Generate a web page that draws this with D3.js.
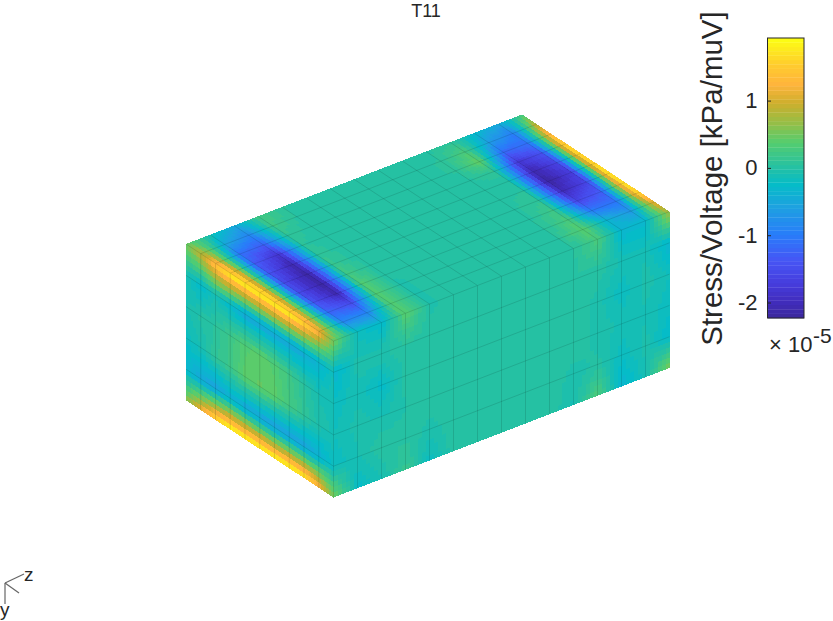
<!DOCTYPE html>
<html><head><meta charset="utf-8">
<style>html,body{margin:0;padding:0;background:#fff}svg{display:block}text{font-family:"Liberation Sans",Arial,sans-serif;fill:#262626}</style>
<script src="https://d3js.org/d3.v7.min.js"></script></head><body>
<svg id="c" width="833" height="621"></svg>
<script>
const titleText="T11";
const colorbarLabel="Stress/Voltage [kPa/muV]";
const colorbarTicks=[1,0,-1,-2];
const colorDomain=[-2.23,1.93];
const colorStops=[-2.23,-2,-1.75,-1.4,-1,-.6,-.25,0,.39,.68,.98,1.26,1.57,1.93];
const colorValues=["#3c28a0","#412dbe","#463cdc","#4655f5","#287dfa","#1ea0e1","#05bcc8","#23c0a5","#55cd6e","#96be46","#cdaf2d","#ffb43c","#ffcd2d","#fcfc14"];
const colorLevels=64;
// rows: depth w=0..5, cols: v=0..10 (back-left to front edge)
const leftFace=[
[.5,.9,1.5,1.85,1.93,1.93,1.93,1.9,1.7,1.3,.5],
[-.1,-.3,-.1,-.3,-.5,-.5,-.5,-.5,-.45,-.35,-.15],
[-.1,0,.05,.2,.35,.4,.35,.2,.05,-.1,-.1],
[-.2,-.1,.1,.2,.4,.45,.4,.25,.1,-.05,-.1],
[-.3,-.5,-.55,-.4,-.5,-.55,-.6,-.55,-.55,-.4,-.2],
[.6,1.2,1.7,1.93,1.93,1.93,1.93,1.93,1.85,1.3,.5]];
// rows: w=0..5, cols: u=0..14 (front edge to right)
const rightFace=[
[.5,-.2,-.3,.4,-.05,.03,.03,.03,.03,.03,.03,.3,-.35,-.3,.8],
[-.35,-.05,-.03,.03,.02,.03,.03,.03,.03,.03,.03,.02,-.1,-.1,-.35],
[-.2,-.1,-.25,.02,.03,.03,.03,.03,.03,.03,.03,-.05,-.2,-.05,-.15],
[-.15,-.05,-.1,-.02,.03,.03,.03,.03,.03,.03,.03,-.05,-.1,-.1,-.2],
[-.2,-.1,.05,.03,-.05,.03,.03,.03,.03,.03,-.05,0,-.2,-.05,-.3],
[.5,-.25,-.1,.15,-.2,.03,.03,.03,.03,.03,-.1,.3,-.35,-.1,.6]];
// rows: u=0..14, cols: v=0..10
const topFace=[
[.5,.9,1.4,1.7,1.8,1.85,1.8,1.7,1.5,1.2,.5],
[-.1,-.5,-1.1,-1.3,-1.4,-1.5,-1.5,-1.4,-1.2,-.85,-.2],
[-.5,-.9,-1.3,-1.85,-2.1,-2.2,-2.2,-2.1,-1.5,-.9,-.3],
[.25,.2,.1,.05,.1,.15,.25,.35,.4,.4,.4],
[.05,.03,0,0,0,0,0,0,-.05,-.05,-.05],
[.03,.03,.03,.03,.03,.03,.03,.03,.03,.03,.03],
[.03,.03,.03,.03,.03,.03,.03,.03,.03,.03,.03],
[.03,.03,.03,.03,.03,.03,.03,.03,.03,.03,.03],
[.03,.03,.03,.03,.03,.03,.03,.03,.03,.03,.03],
[.03,.03,.03,.03,.03,.03,.03,.03,.03,.03,.03],
[.03,.05,.05,.03,.03,.03,.03,.03,.03,.03,.03],
[.1,.3,.45,.1,0,.05,.1,.2,.3,.4,.3],
[-.3,-.6,-1.2,-1.8,-2.1,-2.2,-2,-1.6,-1,-.35,-.35],
[-.5,-1,-1.1,-1.4,-1.6,-1.7,-1.6,-1.3,-1.1,-.7,-.3],
[.3,1,1.5,1.8,1.85,1.9,1.93,1.93,1.8,1.2,.8]];

const svg=d3.select("#c");
const ramp=d3.scaleLinear().domain(colorStops).range(colorValues);
const levelScale=d3.scaleLinear().domain([0,colorLevels-1]).range(colorDomain);
const hex=d3.range(colorLevels).map(i=>d3.color(ramp(levelScale(i))).formatHex());
const color=d3.scaleQuantize().domain(colorDomain).range(hex);
const A=[186,244],uV=[336/14,-129.5/14],vV=[147.5/10,97/10],wV=[0,156.5/5];
const P=(o,a,b,da,db)=>[o[0]+a*da[0]+b*db[0],o[1]+a*da[1]+b*db[1]];
const B=[A[0]+10*vV[0],A[1]+10*vV[1]];
function face(name,values,origin,rowV,colV){
 const g=svg.append("g").attr("class",name),N=6,quads=[];
 const nr=values.length-1,nc=values[0].length-1;
 for(let r=0;r<nr;r++)for(let c=0;c<nc;c++)for(let i=0;i<N;i++)for(let j=0;j<N;j++){
  const a=(i+.5)/N,b=(j+.5)/N;
  const val=d3.interpolateNumber(d3.interpolateNumber(values[r][c],values[r][c+1])(b),d3.interpolateNumber(values[r+1][c],values[r+1][c+1])(b))(a);
  const rr=r+i/N,cc=c+j/N,d=1/N;
  quads.push({val,pts:[P(origin,rr,cc,rowV,colV),P(origin,rr,cc+d,rowV,colV),P(origin,rr+d,cc+d,rowV,colV),P(origin,rr+d,cc,rowV,colV)]});
 }
 g.selectAll("path").data(quads).join("path").attr("d",d=>"M"+d.pts.join("L")+"Z").attr("fill",d=>color(d.val)).attr("shape-rendering","crispEdges");
 const lines=[];
 for(let r=1;r<nr;r++)lines.push([P(origin,r,0,rowV,colV),P(origin,r,nc,rowV,colV)]);
 for(let c=1;c<nc;c++)lines.push([P(origin,0,c,rowV,colV),P(origin,nr,c,rowV,colV)]);
 g.append("g").selectAll("line").data(lines).join("line")
  .attr("x1",d=>d[0][0]).attr("y1",d=>d[0][1]).attr("x2",d=>d[1][0]).attr("y2",d=>d[1][1])
  .attr("stroke","#000").attr("stroke-opacity",.2).attr("stroke-width",.6);
}
face("top",topFace,A,uV,vV);
face("left",leftFace,A,wV,vV);
face("right",rightFace,B,wV,uV);
// shared edges
const edges=[[A,B],[B,[B[0],B[1]+5*wV[1]]],[B,[B[0]+14*uV[0],B[1]+14*uV[1]]]];
svg.append("g").selectAll("line").data(edges).join("line")
 .attr("x1",d=>d[0][0]).attr("y1",d=>d[0][1]).attr("x2",d=>d[1][0]).attr("y2",d=>d[1][1])
 .attr("stroke","#000").attr("stroke-opacity",.2).attr("stroke-width",.6);

svg.append("text").attr("x",426).attr("y",16.5).attr("text-anchor","middle").attr("font-size",18).text(titleText);

// colorbar
const cbY=d3.scaleLinear().domain(colorDomain).range([318,38]);
const cb=svg.append("g");
const lev=d3.scaleLinear().domain([0,hex.length]).range(colorDomain);
cb.selectAll("rect").data(hex).join("rect").attr("x",768).attr("width",36)
 .attr("y",(d,i)=>cbY(lev(i+1))).attr("height",(d,i)=>cbY(lev(i))-cbY(lev(i+1))+.3).attr("fill",d=>d);
cb.append("rect").attr("x",767.5).attr("y",38).attr("width",36.5).attr("height",280).attr("fill","none").attr("stroke","#262626").attr("stroke-width",1);
const ax=d3.axisLeft(cbY).tickValues(colorbarTicks).tickFormat(d3.format("d")).tickSize(-3).tickPadding(10.5);
const axg=svg.append("g").attr("transform","translate(768,0)").call(ax);
axg.select(".domain").remove();
axg.selectAll("line").attr("stroke","#262626").attr("stroke-width",1);
axg.selectAll("text").attr("font-size",22).style("font-family",'"Liberation Sans",Arial,sans-serif').attr("fill","#262626").text(d=>String(d));
svg.append("text").attr("transform","translate(722,178.5) rotate(-90)").attr("text-anchor","middle").attr("font-size",29.5).text(colorbarLabel);
svg.append("text").attr("x",769).attr("y",352).attr("font-size",22).text("×");
svg.append("text").attr("x",788).attr("y",352).attr("font-size",22).text("10");
svg.append("text").attr("x",813).attr("y",343).attr("font-size",21).text("-5");

// orientation triad
const tri=[[[5,583],[24,574]],[[5,583],[5,604]],[[5,583],[19,593]]];
svg.append("g").selectAll("line").data(tri).join("line")
 .attr("x1",d=>d[0][0]).attr("y1",d=>d[0][1]).attr("x2",d=>d[1][0]).attr("y2",d=>d[1][1])
 .attr("stroke","#666").attr("stroke-width",1.2);
svg.append("text").attr("x",24).attr("y",581).attr("font-size",19).text("z");
svg.append("text").attr("x",0).attr("y",616).attr("font-size",19).text("y");
</script></body></html>
